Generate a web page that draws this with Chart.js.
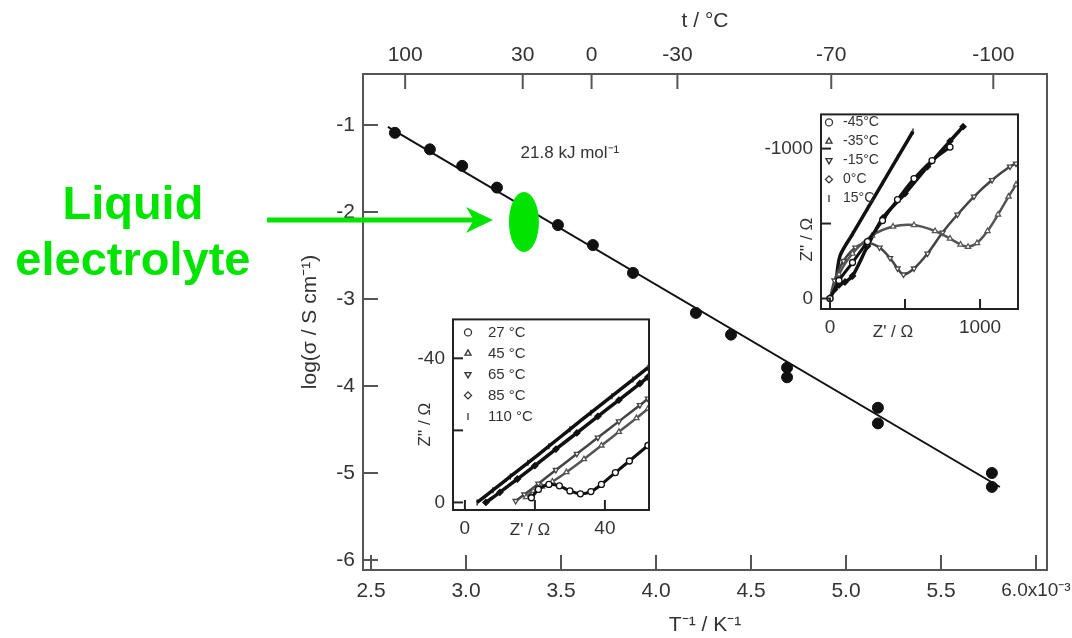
<!DOCTYPE html>
<html>
<head>
<meta charset="utf-8">
<script src="https://cdn.jsdelivr.net/npm/chart.js@4.4.0/dist/chart.umd.min.js"></script>
<style>
  body { margin: 0; background: #fff; }
  #wrap { position: relative; width: 1072px; height: 638px; }
  canvas { position: absolute; }
  #main { left: 0; top: 0; }
  #inset1 { left: 400px; top: 300px; }
  #inset2 { left: 760px; top: 95px; }
</style>
</head>
<body>
<div id="wrap">
  <canvas id="main" width="1072" height="638"></canvas>
  <canvas id="inset1" width="260" height="245"></canvas>
  <canvas id="inset2" width="300" height="250"></canvas>
</div>
<script>
// main Arrhenius plot: 1000/T (x10^-3 K^-1) vs log(sigma)
const invT = [2.626, 2.81, 2.98, 3.163, 3.32, 3.484, 3.668, 3.879, 4.21, 4.395, 4.69, 4.69, 5.168, 5.168, 5.768, 5.768];
const logSigma = [-1.09, -1.28, -1.47, -1.72, -1.94, -2.15, -2.38, -2.70, -3.16, -3.41, -3.79, -3.90, -4.25, -4.43, -5.00, -5.16];
const fitInvT = [2.589, 5.81];
const fitLogSigma = [-1.023, -5.161];
const topTemps = [100, 30, 0, -30, -70, -100];

// lower-left inset (Nyquist, high temperatures)
const inset1Labels = ['27 °C', '45 °C', '65 °C', '85 °C', '110 °C'];
const z1Re = [
  [19, 21, 24, 27, 30, 33, 36, 39, 43, 47, 52.3],
  [17.5, 19.5, 22, 25, 29, 34, 39, 44, 49, 52.3],
  [14.5, 17, 21, 26, 32, 38, 44, 50, 52.3],
  [6, 10, 15, 20, 26, 32, 38, 44, 50, 52.3],
  [3.5, 8, 13, 18, 24, 30, 36, 42, 48, 52.3]
];
const z1Im = [
  [-1.3, -3.6, -5.0, -4.6, -3.2, -2.4, -3.0, -5.0, -8.3, -11.5, -15.8],
  [-1.5, -3.2, -4.4, -5.8, -8.4, -12.0, -15.8, -19.6, -23.4, -26.0],
  [-0.4, -2.2, -5.2, -9.0, -13.5, -18.0, -22.5, -27.0, -28.8],
  [0, -2.8, -6.5, -10.2, -14.8, -19.3, -23.9, -28.4, -33.0, -34.8],
  [0, -3.4, -7.2, -11.0, -15.6, -20.3, -24.9, -29.5, -34.1, -37.4]
];
const inset1XTicks = [0, 20, 40];
const inset1YTicks = [0, -20, -40];

// upper-right inset (Nyquist, low temperatures)
const inset2Labels = ['-45°C', '-35°C', '-15°C', '0°C', '15°C'];
const z2Re = [
  [0, 60, 150, 250, 350, 450, 560, 680, 800],
  [0, 60, 150, 280, 420, 560, 700, 800, 870, 920, 980, 1050, 1120, 1190, 1240],
  [0, 30, 90, 170, 250, 330, 400, 450, 490, 560, 650, 750, 850, 960, 1080, 1200, 1240],
  [0, 30, 60, 100, 150, 250, 353, 500, 650, 800, 887],
  [0, 20, 40, 67, 150, 250, 350, 450, 553]
];
const z2Im = [
  [0, -120, -240, -380, -520, -660, -800, -920, -1010],
  [0, -160, -300, -420, -480, -490, -450, -400, -360, -345, -370, -450, -560, -680, -760],
  [0, -120, -250, -340, -370, -340, -270, -200, -160, -200, -300, -440, -560, -680, -790, -880, -900],
  [0, -60, -90, -110, -150, -350, -538, -700, -880, -1050, -1146],
  [0, -50, -120, -285, -430, -600, -770, -940, -1114]
];
const inset2XTicks = [0, 500, 1000];
const inset2YTicks = [0, -500, -1000];

// annotation anchors (data units of the main plot)
const eaLabel = { x: 3.547, y: -1.33 };
const dropCenter = { x: 3.305, y: -2.115 };
const arrowFrom = { x: 1.953, y: -2.092 };
const arrowTo = { x: 3.142, y: -2.092 };
const noteAt = { x: 1.247, y: -2.08 };

const FONT = '"Liberation Sans", Arial, sans-serif';
const INK = '#333';
const GREEN = '#00e400';

// frame + inward tick marks
const frameTicks = {
  id: 'frameTicks',
  afterDraw(chart, args, opts) {
    const { ctx, chartArea: a } = chart;
    ctx.save();
    ctx.strokeStyle = opts.color;
    ctx.lineWidth = opts.width;
    ctx.strokeRect(a.left, a.top, a.right - a.left, a.bottom - a.top);
    Object.values(chart.scales).forEach(s => {
      s.ticks.forEach(t => {
        const p = s.getPixelForValue(t.value);
        ctx.beginPath();
        if (s.position === 'left') { ctx.moveTo(a.left, p); ctx.lineTo(a.left + opts.len, p); }
        else if (s.position === 'bottom') { ctx.moveTo(p, a.bottom); ctx.lineTo(p, a.bottom - opts.len); }
        else if (s.position === 'top') { ctx.moveTo(p, a.top); ctx.lineTo(p, a.top + opts.len); }
        ctx.stroke();
      });
    });
    ctx.restore();
  }
};

const whiteArea = {
  id: 'whiteArea',
  beforeDraw(chart) {
    const { ctx, chartArea: a } = chart;
    ctx.save();
    ctx.fillStyle = '#fff';
    ctx.fillRect(a.left, a.top, a.right - a.left, a.bottom - a.top);
    ctx.restore();
  }
};

// inset legend + axis names drawn inside / around the frame
const insetText = {
  id: 'insetText',
  afterDraw(chart, args, o) {
    const { ctx, chartArea: a } = chart;
    ctx.save();
    ctx.fillStyle = INK;
    ctx.strokeStyle = INK;
    ctx.font = o.legendFont + 'px ' + FONT;
    ctx.textAlign = 'left';
    ctx.textBaseline = 'middle';
    chart.data.datasets.forEach((ds, i) => {
      const yy = a.top + o.legendTop + i * o.legendStep;
      const xx = a.left + o.markX;
      ctx.lineWidth = 1.3;
      if (Chart.helpers && Chart.helpers.drawPoint) {
        ctx.fillStyle = '#fff';
        Chart.helpers.drawPoint(ctx, { pointStyle: ds.pointStyle, rotation: ds.pointRotation || 0, radius: 3.5, borderWidth: 1.3 }, xx, yy);
        ctx.fillStyle = INK;
      }
      ctx.fillText(ds.label, a.left + o.textX, yy);
    });
    ctx.font = o.titleFont + 'px ' + FONT;
    ctx.textAlign = 'center';
    ctx.fillText(o.xTitle, a.left + o.xTitleDx, a.bottom + o.xTitleDy);
    ctx.translate(a.left - o.yTitleDx, (a.top + a.bottom) / 2 + o.yTitleDy);
    ctx.rotate(-Math.PI / 2);
    ctx.fillText(o.yTitle, 0, 0);
    ctx.restore();
  }
};

const annot = {
  id: 'annot',
  afterDraw(chart) {
    const { ctx, scales: { x, y } } = chart;
    ctx.save();
    ctx.fillStyle = '#333';
    ctx.font = '17px ' + FONT;
    ctx.textAlign = 'center';
    ctx.textBaseline = 'middle';
    ctx.fillText('21.8 kJ mol⁻¹', x.getPixelForValue(eaLabel.x), y.getPixelForValue(eaLabel.y));

    ctx.fillStyle = GREEN;
    ctx.beginPath();
    ctx.ellipse(x.getPixelForValue(dropCenter.x), y.getPixelForValue(dropCenter.y), 15, 30, 0, 0, Math.PI * 2);
    ctx.fill();

    const x0 = x.getPixelForValue(arrowFrom.x), x1 = x.getPixelForValue(arrowTo.x);
    const ay = y.getPixelForValue(arrowTo.y);
    ctx.strokeStyle = GREEN;
    ctx.lineWidth = 5;
    ctx.beginPath();
    ctx.moveTo(x0, ay);
    ctx.lineTo(x1 - 14, ay);
    ctx.stroke();
    ctx.beginPath();
    ctx.moveTo(x1, ay);
    ctx.lineTo(x1 - 27, ay - 13);
    ctx.lineTo(x1 - 19, ay);
    ctx.lineTo(x1 - 27, ay + 13);
    ctx.closePath();
    ctx.fill();

    ctx.font = 'bold 47px ' + FONT;
    const nx = x.getPixelForValue(noteAt.x), ny = y.getPixelForValue(noteAt.y);
    ctx.textBaseline = 'alphabetic';
    ctx.fillText('Liquid', nx, ny);
    ctx.fillText('electrolyte', nx, ny + 56);
    ctx.restore();
  }
};

const tickFont = { family: FONT, size: 21 };
const titleFont = { family: FONT, size: 21 };

new Chart(document.getElementById('main'), {
  type: 'scatter',
  data: {
    datasets: [
      {
        data: fitInvT.map((v, i) => ({ x: v, y: fitLogSigma[i] })),
        showLine: true,
        borderColor: '#111',
        borderWidth: 2,
        pointRadius: 0
      },
      {
        data: invT.map((v, i) => ({ x: v, y: logSigma[i] })),
        pointRadius: 5.5,
        pointBackgroundColor: '#111',
        borderColor: '#111',
        pointStyle: 'circle'
      }
    ]
  },
  options: {
    responsive: false,
    animation: false,
    layout: { padding: { left: 296, right: 25, top: 0, bottom: 0 } },
    plugins: {
      legend: { display: false },
      tooltip: { enabled: false },
      frameTicks: { color: '#555', width: 2, len: 15 }
    },
    scales: {
      x: {
        type: 'linear',
        position: 'bottom',
        min: 2.458,
        max: 6.058,
        afterFit: s => { s.height = 68; s.paddingLeft = 0; s.paddingRight = 0; },
        grid: { display: false, drawTicks: false },
        border: { display: false },
        ticks: {
          stepSize: 0.5,
          includeBounds: false,
          padding: 9,
          color: INK,
          font: c => ({ family: FONT, size: c.tick && Math.abs(c.tick.value - 6) < 1e-9 ? 19 : 21 }),
          callback: v => (Math.abs(v - 6) < 1e-9 ? '6.0x10⁻³' : v.toFixed(1))
        },
        title: { display: true, text: 'T⁻¹ / K⁻¹', color: INK, font: titleFont, padding: { top: 0, bottom: 0 } }
      },
      x2: {
        type: 'linear',
        position: 'top',
        min: 2.458,
        max: 6.058,
        afterFit: s => { s.height = 74; s.paddingLeft = 0; s.paddingRight = 0; },
        afterBuildTicks: s => { s.ticks = topTemps.map(t => ({ value: 1000 / (t + 273.15) })); },
        grid: { display: false, drawTicks: false },
        border: { display: false },
        ticks: { padding: 6, color: INK, font: tickFont, callback: (v, i) => String(topTemps[i]) },
        title: { display: true, text: 't / °C', color: INK, font: titleFont, padding: { top: 9, bottom: 0 } }
      },
      y: {
        type: 'linear',
        position: 'left',
        min: -6.115,
        max: -0.414,
        afterFit: s => { s.width = 67; },
        grid: { display: false, drawTicks: false },
        border: { display: false },
        ticks: { stepSize: 1, includeBounds: false, padding: 8, color: INK, font: tickFont },
        title: { display: true, text: 'log(σ / S cm⁻¹)', color: INK, font: titleFont, padding: { top: 2, bottom: 0 } }
      }
    }
  },
  plugins: [frameTicks, annot]
});

const insetStyles = [
  { pointStyle: 'circle', pointRotation: 0, color: '#111', fill: '#fff', width: 3 },
  { pointStyle: 'triangle', pointRotation: 0, color: '#555', fill: '#fff', width: 2.5 },
  { pointStyle: 'triangle', pointRotation: 180, color: '#444', fill: '#fff', width: 2.5 },
  { pointStyle: 'rectRot', pointRotation: 0, color: '#111', fill: '#111', width: 3.5 },
  { pointStyle: 'line', pointRotation: 90, color: '#111', fill: '#111', width: 3.5 }
];

function insetDatasets(labels, re, im) {
  return labels.map((lab, k) => ({
    label: lab,
    data: re[k].map((v, i) => ({ x: v, y: im[k][i] })),
    showLine: true,
    tension: 0.3,
    borderColor: insetStyles[k].color,
    borderWidth: insetStyles[k].width,
    pointStyle: insetStyles[k].pointStyle,
    pointRotation: insetStyles[k].pointRotation,
    pointRadius: 3,
    pointBorderWidth: 1.3,
    pointBackgroundColor: insetStyles[k].fill,
    pointBorderColor: insetStyles[k].color
  }));
}

function insetAxis(pos, min, max, tickList, size, shown, extra) {
  return Object.assign({
    type: 'linear',
    position: pos,
    min: min,
    max: max,
    afterFit: s => { if (pos === 'left') s.width = size; else { s.height = size; s.paddingLeft = 0; s.paddingRight = 0; } },
    afterBuildTicks: s => { s.ticks = tickList.map(v => ({ value: v })); },
    grid: { display: false, drawTicks: false },
    border: { display: false },
    ticks: {
      padding: pos === 'left' ? 8 : 7,
      color: INK,
      font: { family: FONT, size: 19 },
      callback: v => (shown.includes(v) ? String(v) : '')
    }
  }, extra || {});
}

new Chart(document.getElementById('inset1'), {
  type: 'scatter',
  data: { datasets: insetDatasets(inset1Labels, z1Re, z1Im) },
  options: {
    responsive: false,
    animation: false,
    layout: { padding: { left: 0, right: 11, top: 9, bottom: 0 } },
    plugins: {
      legend: { display: false },
      tooltip: { enabled: false },
      frameTicks: { color: '#222', width: 2, len: 10 },
      insetText: {
        legendFont: 15, legendTop: 13, legendStep: 21, markX: 15, textX: 35,
        titleFont: 17, xTitle: 'Z\' / Ω', xTitleDx: 77, xTitleDy: 20,
        yTitle: 'Z\'\' / Ω', yTitleDx: 28, yTitleDy: 10
      }
    },
    scales: {
      x: insetAxis('bottom', -3.4, 52.6, inset1XTicks, 35, [0, 40]),
      y: insetAxis('left', -50.8, 2.1, inset1YTicks, 53, [0, -40], { reverse: true })
    }
  },
  plugins: [whiteArea, frameTicks, insetText]
});

new Chart(document.getElementById('inset2'), {
  type: 'scatter',
  data: { datasets: insetDatasets(inset2Labels, z2Re, z2Im) },
  options: {
    responsive: false,
    animation: false,
    layout: { padding: { left: 0, right: 42, top: 9, bottom: 0 } },
    plugins: {
      legend: { display: false },
      tooltip: { enabled: false },
      frameTicks: { color: '#222', width: 2, len: 10 },
      insetText: {
        legendFont: 14, legendTop: 8, legendStep: 19, markX: 8, textX: 22,
        titleFont: 17, xTitle: 'Z\' / Ω', xTitleDx: 72, xTitleDy: 23,
        yTitle: 'Z\'\' / Ω', yTitleDx: 14, yTitleDy: 28
      }
    },
    scales: {
      x: insetAxis('bottom', -60, 1253, inset2XTicks, 36, [0, 1000]),
      y: insetAxis('left', -1228, 70, inset2YTicks, 61, [0, -1000], { reverse: true })
    }
  },
  plugins: [whiteArea, frameTicks, insetText]
});
</script>
</body>
</html>
